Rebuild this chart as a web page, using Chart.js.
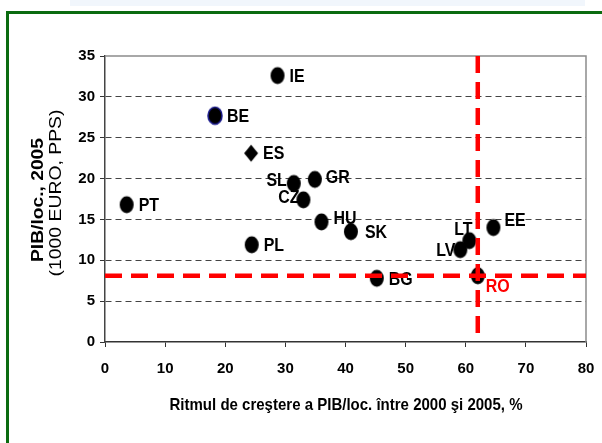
<!DOCTYPE html>
<html>
<head>
<meta charset="utf-8">
<script src="https://cdn.jsdelivr.net/npm/chart.js@4.4.1/dist/chart.umd.min.js"></script>
<style>
  html, body { margin: 0; padding: 0; background: #fff; }
  #wrap { position: relative; width: 602px; height: 443px; overflow: hidden; }
  #topband { position: absolute; left: 70px; top: 0; width: 515px; height: 6px; background: #f1f6fc; }
  #frame { position: absolute; left: 6px; top: 11px; width: 640px; height: 480px; border: 3px solid #0b6b10; box-sizing: border-box; }
  #c { position: absolute; left: 0; top: 0; }
</style>
</head>
<body>
<div id="wrap">
  <div id="topband"></div>
  <div id="frame"></div>
  <canvas id="c" width="602" height="443"></canvas>
</div>
<script>
// data
const countries = ["IE", "BE", "ES", "SL", "GR", "CZ", "HU", "SK", "PT", "PL", "BG", "LT", "LV", "EE", "RO"];
const growth = [28.7, 18.3, 24.3, 31.4, 34.9, 33.0, 36.0, 40.9, 3.6, 24.4, 45.2, 60.6, 59.1, 64.6, 62.0];
const gdpPerCapita = [32.6, 27.7, 23.1, 19.4, 19.9, 17.4, 14.7, 13.5, 16.8, 11.9, 7.8, 12.4, 11.3, 14.0, 8.1];
// reference lines through Romania
const refLineVertical = [{ x: 62, y: 35 }, { x: 62, y: 0 }];
const refLineHorizontal = [{ x: 0, y: 8.1 }, { x: 80, y: 8.1 }];

const xTitle = "Ritmul de creştere a PIB/loc. între 2000 şi 2005, %";
const yTitleBold = "PIB/loc., 2005";
const yTitleRegular = "(1000 EURO, PPS)";

// marker images
function makeMarker(kind) {
  const c = document.createElement("canvas");
  c.width = 16;
  c.height = 20;
  const g = c.getContext("2d");
  g.beginPath();
  if (kind === "diamond") {
    g.moveTo(8, 1.5);
    g.lineTo(15, 10);
    g.lineTo(8, 18.5);
    g.lineTo(1, 10);
    g.closePath();
  } else {
    g.ellipse(8, 10, 7, 8.5, 0, 0, Math.PI * 2);
  }
  g.fillStyle = "#000";
  g.fill();
  if (kind === "blue") {
    g.lineWidth = 1.5;
    g.strokeStyle = "#1a1a8c";
    g.stroke();
  }
  return c;
}
const ellipse = makeMarker("ellipse");
const ellipseBlue = makeMarker("blue");
const diamond = makeMarker("diamond");

const markerStyles = countries.map((c) =>
  c === "ES" ? diamond : c === "BE" ? ellipseBlue : ellipse
);

// label placement next to each point
const labelPlace = {
  IE: [12, 0, "left"], BE: [12, 0, "left"], ES: [12, 0, "left"],
  SL: [-7, -4, "right"], GR: [11, -3, "left"], CZ: [-4, -3, "right"],
  HU: [12, -4, "left"], SK: [14, 0, "left"], PT: [12, 0, "left"],
  PL: [12, 0, "left"], BG: [12, 1, "left"], LT: [-6, -12, "center"],
  LV: [-5, 0, "right"], EE: [11, -8, "left"], RO: [8, 10, "left"],
};

const labelsPlugin = {
  id: "pointLabels",
  beforeDatasetsDraw(chart) {
    const ctx = chart.ctx;
    const meta = chart.getDatasetMeta(2);
    ctx.save();
    ctx.font = "bold 19px 'Liberation Sans', Arial, sans-serif";
    ctx.textBaseline = "middle";
    meta.data.forEach((pt, i) => {
      const name = countries[i];
      const p = labelPlace[name];
      ctx.save();
      ctx.translate(pt.x + p[0], pt.y + p[1]);
      ctx.scale(0.84, 1);
      ctx.textAlign = p[2];
      ctx.fillStyle = name === "RO" ? "#ff0000" : "#000";
      ctx.fillText(name, 0, 1);
      ctx.restore();
    });
    ctx.restore();
  },
};

const frameAndTitles = {
  id: "frameAndTitles",
  beforeDatasetsDraw(chart) {
    const ctx = chart.ctx;
    const a = chart.chartArea;
    ctx.save();
    ctx.strokeStyle = "#8c8c8c";
    ctx.lineWidth = 1.5;
    ctx.beginPath();
    ctx.moveTo(a.left, a.top);
    ctx.lineTo(a.right, a.top);
    ctx.lineTo(a.right, a.bottom);
    ctx.stroke();
    ctx.restore();
  },
  afterDraw(chart) {
    const ctx = chart.ctx;
    ctx.save();
    ctx.fillStyle = "#000";
    ctx.textAlign = "center";
    ctx.textBaseline = "middle";

    // x title squeezed to the reference width
    ctx.font = "bold 17px 'Liberation Sans', Arial, sans-serif";
    let w = ctx.measureText(xTitle).width;
    ctx.save();
    ctx.translate(346, 405);
    ctx.scale(353 / w, 1);
    ctx.fillText(xTitle, 0, 0);
    ctx.restore();

    // y title, two lines
    ctx.font = "bold 17px 'Liberation Sans', Arial, sans-serif";
    w = ctx.measureText(yTitleBold).width;
    ctx.save();
    ctx.translate(38, 200);
    ctx.rotate(-Math.PI / 2);
    ctx.scale(124 / w, 1);
    ctx.fillText(yTitleBold, 0, 0);
    ctx.restore();

    ctx.font = "16px 'Liberation Sans', Arial, sans-serif";
    w = ctx.measureText(yTitleRegular).width;
    ctx.save();
    ctx.translate(57, 193);
    ctx.rotate(-Math.PI / 2);
    ctx.scale(167 / w, 1);
    ctx.fillText(yTitleRegular, 0, 0);
    ctx.restore();

    ctx.restore();
  },
};

const points = countries.map((c, i) => ({ x: growth[i], y: gdpPerCapita[i] }));

const ctx = document.getElementById("c").getContext("2d");
new Chart(ctx, {
  type: "scatter",
  data: {
    datasets: [
      {
        data: refLineVertical,
        showLine: true,
        borderColor: "#ff0000",
        borderWidth: 4.5,
        borderDash: [17, 9],
        pointRadius: 0,
        order: 0,
      },
      {
        data: refLineHorizontal,
        showLine: true,
        borderColor: "#ff0000",
        borderWidth: 4.5,
        borderDash: [17, 9],
        pointRadius: 0,
        order: 0,
      },
      {
        data: points,
        pointStyle: markerStyles,
        pointRadius: 8,
        order: 1,
      },
    ],
  },
  options: {
    responsive: false,
    animation: false,
    devicePixelRatio: 1,
    layout: { padding: { top: 56, right: 16, left: 0, bottom: 0 } },
    scales: {
      x: {
        type: "linear",
        min: 0,
        max: 80,
        afterFit: (scale) => {
          scale.height = 101;
          scale.paddingLeft = 0;
          scale.paddingRight = 16;
        },
        ticks: {
          stepSize: 10,
          color: "#000",
          padding: 13,
          maxRotation: 0,
          font: { family: "'Liberation Sans Narrow', 'Liberation Sans', Arial, sans-serif", size: 15, weight: "bold" },
        },
        grid: {
          drawOnChartArea: false,
          drawTicks: true,
          tickLength: 5,
          tickColor: "#333",
        },
        border: { color: "#333", width: 1.5 },
      },
      y: {
        min: 0,
        max: 35,
        afterFit: (scale) => { scale.width = 105; },
        ticks: {
          stepSize: 5,
          color: "#000",
          padding: 5,
          font: { family: "'Liberation Sans Narrow', 'Liberation Sans', Arial, sans-serif", size: 15, weight: "bold" },
        },
        grid: {
          color: (c) => (c.tick && (c.tick.value === 0 || c.tick.value === 35) ? "rgba(0,0,0,0)" : "#444"),
          lineWidth: 1,
          tickLength: 5,
          tickColor: "#333",
          tickBorderDash: [],
        },
        border: { color: "#444", width: 1.5, dash: [6, 4] },
      },
    },
    plugins: {
      legend: { display: false },
      tooltip: { enabled: false },
    },
  },
  plugins: [labelsPlugin, frameAndTitles],
});
</script>
</body>
</html>
